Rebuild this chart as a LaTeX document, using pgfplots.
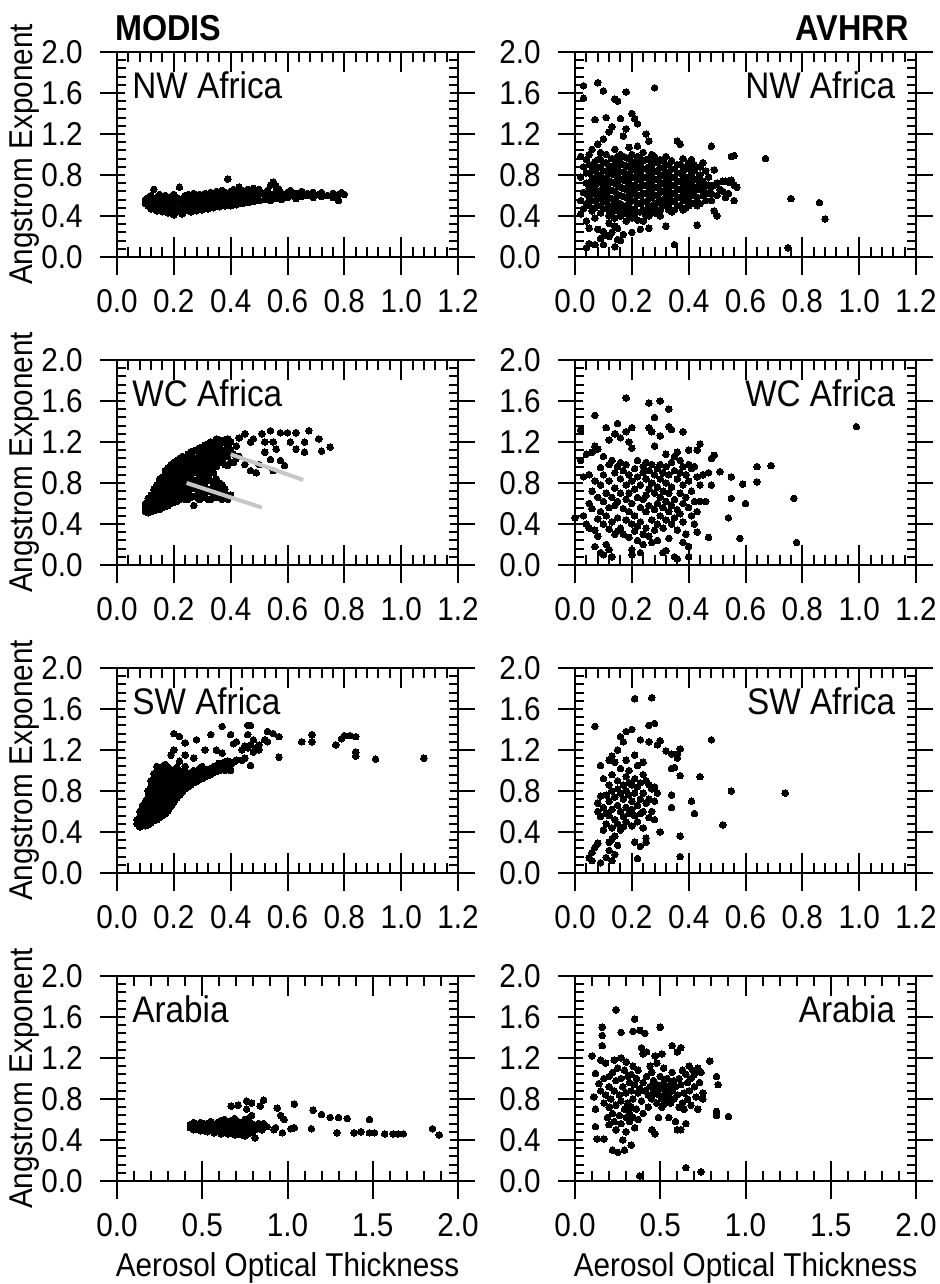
\documentclass[border=0pt]{standalone}
\usepackage{fontspec}
\setmainfont{Liberation Sans}[FakeStretch=0.9]
\usepackage{pgfplots}
\pgfplotsset{compat=1.18}
\newcommand\tickfont{\fontsize{16.5}{18}\selectfont}
\newcommand\panelfont{\fontsize{18.5}{20}\selectfont}
\newcommand\titlefont{\fontsize{18}{20}\selectfont\bfseries}
\pgfplotsset{
 dots/.style={only marks, mark=*, mark size=1.65pt, black, mark options={fill=black, draw=black, line width=0pt}},
 sat/.style={
  scale only axis, width=170.5pt, height=102.5pt,
  ymin=0, ymax=2, ytick={0,0.4,0.8,1.2,1.6,2.0},
  minor y tick num=4, minor x tick num=4,
  tick align=inside,
  major tick length=7pt, minor tick length=4.5pt,
  axis line style={line width=1pt},
  every tick/.style={black, line width=1pt},
  xtick style={/pgfplots/major tick length=10pt, /pgfplots/minor tick length=5pt},
  ytick style={/pgfplots/major tick length=4pt, /pgfplots/minor tick length=4.5pt},
  tick label style={font=\tickfont, inner sep=1pt},
  /pgf/number format/assume math mode=true,
  /pgf/number format/fixed, /pgf/number format/fixed zerofill, /pgf/number format/precision=1,
  xticklabel shift=15pt, yticklabel shift=16pt,
  extra y ticks={0,0.4,0.8,1.2,1.6,2.0},
  extra y tick labels={,,,,,},
  extra y tick style={tick align=outside, ytick style={/pgfplots/major tick length=8.5pt}},
  clip=false, clip marker paths=true,
  every axis y label/.style={at={(axis description cs:-0.27,0.5)}, rotate=90, anchor=center, font=\tickfont},
  every axis x label/.style={at={(axis description cs:0.5,-0.424)}, anchor=center, font=\tickfont},
 },
 xa/.style={xmin=0, xmax=1.2, xtick={0,0.2,0.4,0.6,0.8,1.0,1.2},
  extra x ticks={0,0.2,0.4,0.6,0.8,1.0,1.2}, extra x tick labels={,,,,,,},
  extra x tick style={tick align=outside, xtick pos=left, xtick style={/pgfplots/major tick length=9pt}}},
 xb/.style={xmin=0, xmax=2, xtick={0,0.5,1.0,1.5,2.0},
  extra x ticks={0,0.5,1.0,1.5,2.0}, extra x tick labels={,,,,},
  extra x tick style={tick align=outside, xtick pos=left, xtick style={/pgfplots/major tick length=9pt}}},
}
\begin{document}
\begin{tikzpicture}
\path[use as bounding box] (0,0) rectangle (470pt,642pt);
% ---------------- Row 1: NW Africa
\begin{axis}[sat, xa, at={(58.5pt,513.5pt)}, anchor=south west, ylabel={Angstrom Exponent}]
\addplot[dots] coordinates {
(0.10,0.52)(0.10,0.56)(0.11,0.50)(0.11,0.58)(0.11,0.54)(0.12,0.47)(0.12,0.55)(0.12,0.60)(0.13,0.49)(0.13,0.53)(0.13,0.66)(0.14,0.45)(0.14,0.52)(0.14,0.58)(0.15,0.48)(0.15,0.55)(0.15,0.61)(0.16,0.44)(0.16,0.51)(0.16,0.57)(0.17,0.47)(0.17,0.54)(0.17,0.60)(0.18,0.43)(0.18,0.50)(0.18,0.56)(0.19,0.46)(0.19,0.53)(0.19,0.59)(0.20,0.41)(0.20,0.49)(0.20,0.55)(0.20,0.61)(0.21,0.44)(0.21,0.52)(0.21,0.58)(0.22,0.46)(0.22,0.54)(0.22,0.68)(0.23,0.42)(0.23,0.50)(0.23,0.57)(0.24,0.45)(0.24,0.53)(0.24,0.60)(0.25,0.47)(0.25,0.55)(0.25,0.61)(0.26,0.44)(0.26,0.51)(0.26,0.58)(0.27,0.48)(0.27,0.54)(0.27,0.62)(0.28,0.45)(0.28,0.52)(0.28,0.59)(0.29,0.49)(0.29,0.56)(0.29,0.61)(0.30,0.46)(0.30,0.53)(0.30,0.60)(0.31,0.50)(0.31,0.57)(0.31,0.62)(0.32,0.47)(0.32,0.54)(0.32,0.61)(0.33,0.49)(0.33,0.56)(0.33,0.63)(0.34,0.48)(0.34,0.55)(0.34,0.60)(0.35,0.50)(0.35,0.57)(0.35,0.64)(0.36,0.49)(0.36,0.55)(0.36,0.62)(0.37,0.51)(0.37,0.58)(0.37,0.65)(0.38,0.50)(0.38,0.56)(0.38,0.63)(0.39,0.52)(0.39,0.59)(0.39,0.76)(0.40,0.50)(0.40,0.57)(0.40,0.64)(0.41,0.53)(0.41,0.60)(0.41,0.66)(0.42,0.51)(0.42,0.58)(0.42,0.63)(0.43,0.54)(0.43,0.61)(0.43,0.68)(0.44,0.52)(0.44,0.59)(0.44,0.65)(0.45,0.55)(0.45,0.62)(0.46,0.53)(0.46,0.60)(0.46,0.66)(0.47,0.56)(0.47,0.62)(0.48,0.54)(0.48,0.60)(0.48,0.67)(0.49,0.57)(0.49,0.63)(0.50,0.55)(0.50,0.61)(0.50,0.66)(0.52,0.56)(0.52,0.62)(0.53,0.58)(0.53,0.65)(0.54,0.55)(0.54,0.61)(0.54,0.70)(0.55,0.59)(0.55,0.73)(0.56,0.57)(0.56,0.64)(0.56,0.69)(0.57,0.60)(0.57,0.66)(0.58,0.56)(0.58,0.62)(0.60,0.58)(0.60,0.63)(0.61,0.60)(0.61,0.65)(0.63,0.57)(0.63,0.62)(0.65,0.59)(0.65,0.64)(0.67,0.60)(0.67,0.62)(0.69,0.58)(0.69,0.63)(0.71,0.61)(0.72,0.59)(0.72,0.63)(0.74,0.60)(0.76,0.62)(0.76,0.58)(0.78,0.55)(0.78,0.61)(0.79,0.63)(0.80,0.61)
};
\node[anchor=west, font=\panelfont, inner sep=0pt] at (rel axis cs:0.044,0.84) {NW Africa};
\node[anchor=west, font=\titlefont, inner sep=0pt] at (rel axis cs:-0.006,1.117) {MODIS};
\end{axis}
\begin{axis}[sat, xa, at={(287.5pt,513.5pt)}, anchor=south west]
\addplot[dots] coordinates {
(0.02,0.55)(0.02,0.78)(0.02,0.98)(0.02,0.42)(0.03,0.63)(0.03,0.88)(0.03,1.67)(0.03,1.55)(0.03,0.47)(0.04,0.52)(0.04,0.72)(0.04,0.95)(0.04,0.35)(0.04,0.09)(0.05,0.58)(0.05,0.82)(0.05,1.00)(0.05,0.67)(0.05,0.13)(0.05,0.28)(0.06,0.45)(0.06,0.62)(0.06,0.76)(0.06,0.90)(0.06,1.05)(0.07,0.55)(0.07,0.70)(0.07,0.85)(0.07,1.34)(0.07,0.38)(0.07,0.12)(0.08,0.50)(0.08,0.64)(0.08,0.80)(0.08,0.95)(0.08,1.70)(0.08,0.27)(0.08,1.10)(0.09,0.58)(0.09,0.73)(0.09,0.88)(0.09,1.02)(0.09,0.43)(0.09,0.18)(0.10,0.47)(0.10,0.62)(0.10,0.77)(0.10,0.92)(0.10,1.15)(0.10,1.62)(0.10,0.12)(0.10,0.25)(0.11,0.54)(0.11,0.69)(0.11,0.84)(0.11,1.00)(0.11,1.36)(0.11,0.21)(0.12,0.40)(0.12,0.58)(0.12,0.74)(0.12,0.89)(0.12,1.22)(0.12,0.33)(0.12,0.20)(0.13,0.50)(0.13,0.65)(0.13,0.81)(0.13,0.96)(0.13,1.27)(0.13,0.24)(0.14,0.38)(0.14,0.56)(0.14,0.72)(0.14,0.87)(0.14,1.05)(0.14,1.54)(0.14,0.10)(0.14,0.30)(0.15,0.45)(0.15,0.61)(0.15,0.78)(0.15,0.93)(0.15,1.52)(0.15,0.28)(0.15,0.17)(0.16,0.52)(0.16,0.68)(0.16,0.83)(0.16,1.00)(0.16,1.35)(0.16,0.16)(0.16,0.40)(0.17,0.42)(0.17,0.59)(0.17,0.75)(0.17,0.90)(0.17,1.18)(0.17,0.22)(0.18,0.50)(0.18,0.66)(0.18,0.81)(0.18,0.97)(0.18,1.25)(0.18,1.61)(0.18,0.35)(0.19,0.44)(0.19,0.60)(0.19,0.72)(0.19,0.88)(0.19,1.07)(0.20,0.38)(0.20,0.55)(0.20,0.70)(0.20,0.85)(0.20,1.00)(0.20,1.40)(0.20,0.24)(0.21,0.47)(0.21,0.63)(0.21,0.78)(0.21,0.93)(0.21,1.35)(0.22,0.36)(0.22,0.52)(0.22,0.68)(0.22,0.84)(0.22,1.30)(0.22,1.08)(0.23,0.44)(0.23,0.60)(0.23,0.75)(0.23,0.90)(0.23,0.27)(0.24,0.35)(0.24,0.54)(0.24,0.70)(0.24,0.86)(0.24,1.02)(0.25,0.46)(0.25,0.62)(0.25,0.78)(0.25,0.95)(0.25,1.20)(0.26,0.40)(0.26,0.57)(0.26,0.72)(0.26,0.88)(0.26,1.13)(0.26,0.28)(0.27,0.50)(0.27,0.66)(0.27,0.82)(0.27,1.00)(0.28,0.43)(0.28,0.60)(0.28,0.76)(0.28,0.92)(0.28,1.65)(0.29,0.53)(0.29,0.68)(0.29,0.84)(0.30,0.46)(0.30,0.63)(0.30,0.79)(0.30,0.95)(0.31,0.56)(0.31,0.72)(0.31,0.87)(0.32,0.30)(0.32,0.50)(0.32,0.66)(0.32,0.82)(0.33,0.60)(0.33,0.76)(0.33,0.90)(0.34,0.44)(0.34,0.55)(0.34,0.70)(0.34,0.86)(0.35,0.62)(0.35,0.78)(0.35,0.12)(0.36,0.50)(0.36,0.66)(0.36,0.82)(0.36,1.13)(0.37,0.58)(0.37,0.74)(0.37,0.90)(0.37,1.10)(0.38,0.46)(0.38,0.64)(0.38,0.80)(0.39,0.55)(0.39,0.70)(0.39,0.86)(0.40,0.50)(0.40,0.65)(0.40,0.78)(0.40,0.92)(0.41,0.60)(0.41,0.74)(0.41,0.95)(0.42,0.52)(0.42,0.68)(0.42,0.84)(0.43,0.31)(0.43,0.58)(0.43,0.76)(0.44,0.52)(0.44,0.66)(0.44,0.88)(0.45,0.60)(0.45,0.92)(0.45,0.74)(0.46,0.55)(0.46,0.70)(0.47,0.78)(0.47,0.62)(0.48,0.55)(0.48,1.08)(0.48,0.68)(0.49,0.45)(0.49,0.85)(0.50,0.40)(0.50,0.72)(0.50,0.60)(0.52,0.74)(0.52,0.64)(0.53,0.58)(0.53,0.74)(0.54,0.62)(0.54,0.73)(0.55,0.98)(0.55,0.75)(0.56,0.55)(0.56,0.99)(0.56,0.70)(0.57,0.68)(0.67,0.96)(0.75,0.09)(0.76,0.57)(0.86,0.53)(0.88,0.37)
(0.05,0.72)(0.06,0.55)(0.07,0.62)(0.08,0.72)(0.09,0.65)(0.10,0.55)(0.10,0.84)(0.11,0.62)(0.11,0.76)(0.12,0.50)(0.12,0.66)(0.12,0.82)(0.13,0.57)(0.13,0.73)(0.13,0.88)(0.14,0.64)(0.14,0.80)(0.15,0.53)(0.15,0.70)(0.15,0.86)(0.16,0.60)(0.16,0.76)(0.16,0.92)(0.17,0.50)(0.17,0.67)(0.17,0.83)(0.18,0.58)(0.18,0.74)(0.18,0.89)(0.19,0.52)(0.19,0.66)(0.19,0.80)(0.19,0.96)(0.20,0.46)(0.20,0.62)(0.20,0.78)(0.20,0.92)(0.21,0.55)(0.21,0.70)(0.21,0.86)(0.22,0.44)(0.22,0.60)(0.22,0.76)(0.22,0.92)(0.23,0.52)(0.23,0.68)(0.23,0.82)(0.24,0.62)(0.24,0.78)(0.24,0.94)(0.25,0.54)(0.25,0.70)(0.25,0.86)(0.26,0.64)(0.26,0.80)(0.27,0.58)(0.27,0.74)(0.27,0.90)(0.28,0.52)(0.28,0.68)(0.28,0.84)(0.29,0.60)(0.29,0.76)(0.29,0.92)(0.30,0.55)(0.30,0.71)(0.30,0.87)(0.31,0.64)(0.31,0.80)(0.32,0.58)(0.32,0.74)(0.32,0.90)(0.33,0.52)(0.33,0.68)(0.33,0.83)(0.34,0.62)(0.34,0.78)(0.35,0.54)(0.35,0.70)(0.35,0.86)(0.36,0.58)(0.36,0.74)(0.37,0.66)(0.37,0.82)(0.38,0.56)(0.38,0.72)(0.38,0.88)(0.39,0.62)(0.39,0.78)(0.40,0.58)(0.40,0.72)(0.41,0.66)(0.41,0.82)(0.42,0.60)(0.42,0.76)(0.43,0.66)(0.44,0.72)
(0.04,0.62)(0.04,0.82)(0.05,0.50)(0.05,0.90)(0.06,0.68)(0.06,0.84)(0.07,0.48)(0.07,0.77)(0.07,0.93)(0.08,0.57)(0.08,0.87)(0.09,0.50)(0.09,0.80)(0.09,0.95)(0.10,0.70)(0.11,0.47)(0.11,0.92)(0.12,0.45)(0.13,0.44)(0.14,0.48)(0.14,0.94)(0.15,0.98)(0.16,0.46)(0.17,0.98)(0.18,0.44)(0.19,0.38)(0.21,0.40)(0.22,0.98)(0.23,0.96)(0.24,0.46)(0.25,0.40)(0.26,0.50)(0.26,0.96)(0.27,0.44)(0.28,0.98)(0.29,0.46)(0.30,0.40)(0.31,0.50)(0.31,0.94)(0.32,0.98)(0.33,0.46)(0.34,0.94)(0.35,0.46)(0.36,0.90)(0.37,0.50)(0.38,0.96)(0.39,0.48)(0.40,0.86)(0.41,0.52)(0.42,0.90)(0.43,0.50)(0.44,0.80)(0.45,0.66)(0.46,0.62)(0.46,0.84)(0.47,0.70)(0.48,0.62)(0.49,0.70)(0.51,0.66)
};
\node[anchor=east, font=\panelfont, inner sep=0pt] at (rel axis cs:0.94,0.84) {NW Africa};
\node[anchor=east, font=\titlefont, inner sep=0pt] at (rel axis cs:0.98,1.117) {AVHRR};
\end{axis}
% ---------------- Row 2: WC Africa
\begin{axis}[sat, xa, at={(58.5pt,359.5pt)}, anchor=south west, ylabel={Angstrom Exponent}]
\addplot[dots] coordinates {
(0.10,0.52)(0.10,0.56)(0.10,0.60)(0.11,0.51)(0.11,0.55)(0.11,0.60)(0.11,0.65)(0.12,0.52)(0.12,0.57)(0.12,0.62)(0.12,0.68)(0.13,0.53)(0.13,0.58)(0.13,0.64)(0.13,0.70)(0.13,0.74)(0.14,0.54)(0.14,0.60)(0.14,0.66)(0.14,0.72)(0.14,0.78)(0.15,0.54)(0.15,0.60)(0.15,0.66)(0.15,0.72)(0.15,0.78)(0.15,0.84)(0.16,0.56)(0.16,0.62)(0.16,0.68)(0.16,0.74)(0.16,0.80)(0.16,0.86)(0.17,0.57)(0.17,0.63)(0.17,0.70)(0.17,0.76)(0.17,0.82)(0.17,0.88)(0.17,0.92)(0.18,0.58)(0.18,0.65)(0.18,0.72)(0.18,0.78)(0.18,0.84)(0.18,0.90)(0.18,0.95)(0.19,0.60)(0.19,0.66)(0.19,0.73)(0.19,0.80)(0.19,0.86)(0.19,0.92)(0.19,0.98)(0.20,0.61)(0.20,0.68)(0.20,0.75)(0.20,0.82)(0.20,0.88)(0.20,0.94)(0.20,1.00)(0.21,0.62)(0.21,0.69)(0.21,0.76)(0.21,0.83)(0.21,0.90)(0.21,0.96)(0.21,1.02)(0.22,0.64)(0.22,0.71)(0.22,0.78)(0.22,0.85)(0.22,0.92)(0.22,0.98)(0.22,1.04)(0.23,0.65)(0.23,0.72)(0.23,0.79)(0.23,0.86)(0.23,0.93)(0.23,1.00)(0.23,1.06)(0.24,0.64)(0.24,0.70)(0.24,0.77)(0.24,0.84)(0.24,0.91)(0.24,0.98)(0.24,1.05)(0.25,0.64)(0.25,0.72)(0.25,0.80)(0.25,0.87)(0.25,0.94)(0.25,1.01)(0.25,1.08)(0.26,0.66)(0.26,0.74)(0.26,0.82)(0.26,0.89)(0.26,0.96)(0.26,1.03)(0.26,1.10)(0.27,0.58)(0.27,0.67)(0.27,0.75)(0.27,0.83)(0.27,0.91)(0.27,0.98)(0.27,1.05)(0.27,1.11)(0.28,0.66)(0.28,0.74)(0.28,0.82)(0.28,0.90)(0.28,0.97)(0.28,1.04)(0.28,1.12)(0.29,0.64)(0.29,0.72)(0.29,0.80)(0.29,0.88)(0.29,0.95)(0.29,1.02)(0.29,1.09)(0.29,1.14)(0.30,0.66)(0.30,0.76)(0.30,0.84)(0.30,0.92)(0.30,0.99)(0.30,1.06)(0.30,1.15)(0.31,0.70)(0.31,0.80)(0.31,0.88)(0.31,0.96)(0.31,1.04)(0.31,1.12)(0.31,1.17)(0.32,0.64)(0.32,0.74)(0.32,0.86)(0.32,0.94)(0.32,1.01)(0.32,1.09)(0.32,1.18)(0.33,0.64)(0.33,0.72)(0.33,0.82)(0.33,0.92)(0.33,1.00)(0.33,1.07)(0.33,1.14)(0.33,1.20)(0.34,0.68)(0.34,0.78)(0.34,0.90)(0.34,0.98)(0.34,1.05)(0.34,1.12)(0.34,1.20)(0.35,0.66)(0.35,0.76)(0.35,0.84)(0.35,0.96)(0.35,1.04)(0.35,1.10)(0.35,1.17)(0.35,1.23)(0.36,0.72)(0.36,0.80)(0.36,1.00)(0.36,1.08)(0.36,1.15)(0.36,1.22)(0.37,0.64)(0.37,0.70)(0.37,0.78)(0.37,1.03)(0.37,1.12)(0.37,1.19)(0.38,0.68)(0.38,0.74)(0.38,0.98)(0.38,1.10)(0.38,1.22)(0.39,0.64)(0.39,0.97)(0.39,1.06)(0.39,1.16)(0.39,1.23)(0.40,0.68)(0.40,1.00)(0.40,1.12)(0.40,1.20)(0.41,1.00)(0.41,1.08)(0.42,1.16)(0.42,1.04)(0.43,1.06)(0.43,1.24)(0.45,0.98)(0.45,1.28)(0.47,0.92)(0.47,1.20)(0.48,1.23)(0.49,0.90)(0.50,0.98)(0.51,1.28)(0.52,1.10)(0.52,1.20)(0.54,1.31)(0.54,1.03)(0.55,0.92)(0.55,1.20)(0.56,1.13)(0.575,1.02)(0.575,1.29)(0.59,0.97)(0.60,1.29)(0.61,1.20)(0.63,1.29)(0.63,1.13)(0.66,1.20)(0.66,1.10)(0.675,1.31)(0.71,1.23)(0.72,1.11)(0.75,1.15)
};
\addplot[gray!45, line width=2pt] coordinates {(0.245,0.80)(0.51,0.56)};
\addplot[gray!45, line width=2pt] coordinates {(0.40,1.08)(0.655,0.83)};
\node[anchor=west, font=\panelfont, inner sep=0pt] at (rel axis cs:0.044,0.84) {WC Africa};
\end{axis}
\begin{axis}[sat, xa, at={(287.5pt,359.5pt)}, anchor=south west]
\addplot[dots] coordinates {
(0.00,0.46)(0.02,1.02)(0.02,1.32)(0.03,0.86)(0.03,0.48)(0.04,1.08)(0.04,0.40)(0.05,0.88)(0.05,0.60)(0.05,0.36)(0.06,1.10)(0.06,0.72)(0.06,0.55)(0.07,1.46)(0.07,1.16)(0.07,0.82)(0.07,0.34)(0.07,0.18)(0.08,1.13)(0.08,0.66)(0.08,0.45)(0.08,0.28)(0.09,0.95)(0.09,0.78)(0.09,0.52)(0.09,0.12)(0.10,1.06)(0.10,0.88)(0.10,0.62)(0.10,0.40)(0.10,0.10)(0.11,1.34)(0.11,0.70)(0.11,0.48)(0.11,0.20)(0.12,1.22)(0.12,0.98)(0.12,0.82)(0.12,0.56)(0.12,0.35)(0.12,0.15)(0.13,1.02)(0.13,0.66)(0.13,0.42)(0.13,0.08)(0.14,1.28)(0.14,0.90)(0.14,0.75)(0.14,0.58)(0.14,0.30)(0.15,1.38)(0.15,0.96)(0.15,0.62)(0.15,0.46)(0.15,0.33)(0.16,1.24)(0.16,1.00)(0.16,0.84)(0.16,0.70)(0.16,0.36)(0.17,0.92)(0.17,0.55)(0.17,0.30)(0.18,1.63)(0.18,1.30)(0.18,0.98)(0.18,0.78)(0.18,0.64)(0.18,0.44)(0.19,1.20)(0.19,0.88)(0.19,0.70)(0.19,0.52)(0.19,0.27)(0.20,1.34)(0.20,1.14)(0.20,0.82)(0.20,0.60)(0.20,0.40)(0.20,0.15)(0.20,0.10)(0.21,0.94)(0.21,0.74)(0.21,0.48)(0.21,0.33)(0.22,1.02)(0.22,0.86)(0.22,0.66)(0.22,0.38)(0.22,0.24)(0.23,0.78)(0.23,0.56)(0.23,0.42)(0.23,0.12)(0.24,0.96)(0.24,0.90)(0.24,0.64)(0.24,0.30)(0.24,0.20)(0.25,1.00)(0.25,0.84)(0.25,0.68)(0.25,0.52)(0.25,0.36)(0.26,1.58)(0.26,1.34)(0.26,0.92)(0.26,0.74)(0.26,0.58)(0.26,0.28)(0.27,1.30)(0.27,0.98)(0.27,0.80)(0.27,0.44)(0.27,0.22)(0.28,1.44)(0.28,1.16)(0.28,0.88)(0.28,0.70)(0.28,0.54)(0.28,0.34)(0.29,0.94)(0.29,0.76)(0.29,0.60)(0.29,0.40)(0.29,0.24)(0.30,1.60)(0.30,1.26)(0.30,0.98)(0.30,0.84)(0.30,0.66)(0.30,0.48)(0.31,0.90)(0.31,0.72)(0.31,0.56)(0.31,0.36)(0.31,0.12)(0.32,1.08)(0.32,0.96)(0.32,0.80)(0.32,0.62)(0.32,0.44)(0.32,0.14)(0.33,1.52)(0.33,1.35)(0.33,0.88)(0.33,0.70)(0.33,0.52)(0.33,0.26)(0.34,1.32)(0.34,1.00)(0.34,0.76)(0.34,0.58)(0.34,0.40)(0.35,1.06)(0.35,0.92)(0.35,0.64)(0.35,0.46)(0.35,0.08)(0.36,1.10)(0.36,0.84)(0.36,0.54)(0.36,0.34)(0.36,0.06)(0.37,1.02)(0.37,0.90)(0.37,0.70)(0.37,0.50)(0.38,1.30)(0.38,0.96)(0.38,0.78)(0.38,0.60)(0.38,0.42)(0.38,0.22)(0.39,0.88)(0.39,0.66)(0.39,0.30)(0.40,1.12)(0.40,0.98)(0.40,0.82)(0.40,0.56)(0.40,0.18)(0.40,0.08)(0.41,0.94)(0.41,0.72)(0.41,0.48)(0.42,0.96)(0.42,0.62)(0.42,0.40)(0.43,1.12)(0.43,0.86)(0.43,0.52)(0.43,0.32)(0.44,1.18)(0.44,0.78)(0.44,0.62)(0.45,0.88)(0.46,0.62)(0.47,0.27)(0.47,0.90)(0.48,1.04)(0.48,0.78)(0.49,1.07)(0.51,0.91)(0.54,0.46)(0.55,0.86)(0.55,0.65)(0.58,0.26)(0.59,0.79)(0.60,0.60)(0.64,0.96)(0.64,0.81)(0.69,0.97)(0.77,0.65)(0.78,0.22)(0.99,1.35)
};
\node[anchor=east, font=\panelfont, inner sep=0pt] at (rel axis cs:0.94,0.84) {WC Africa};
\end{axis}
% ---------------- Row 3: SW Africa
\begin{axis}[sat, xa, at={(58.5pt,205.5pt)}, anchor=south west, ylabel={Angstrom Exponent}]
\addplot[dots] coordinates {
(0.07,0.48)(0.07,0.52)(0.08,0.45)(0.08,0.50)(0.08,0.55)(0.08,0.60)(0.09,0.46)(0.09,0.51)(0.09,0.56)(0.09,0.61)(0.09,0.66)(0.10,0.46)(0.10,0.50)(0.10,0.55)(0.10,0.60)(0.10,0.65)(0.10,0.70)(0.11,0.47)(0.11,0.52)(0.11,0.57)(0.11,0.62)(0.11,0.68)(0.11,0.74)(0.11,0.80)(0.12,0.49)(0.12,0.54)(0.12,0.60)(0.12,0.66)(0.12,0.72)(0.12,0.78)(0.12,0.84)(0.12,0.90)(0.13,0.51)(0.13,0.56)(0.13,0.62)(0.13,0.68)(0.13,0.74)(0.13,0.80)(0.13,0.86)(0.13,0.92)(0.13,0.97)(0.14,0.52)(0.14,0.58)(0.14,0.64)(0.14,0.70)(0.14,0.76)(0.14,0.82)(0.14,0.88)(0.14,0.94)(0.14,1.00)(0.14,1.04)(0.15,0.54)(0.15,0.60)(0.15,0.66)(0.15,0.72)(0.15,0.78)(0.15,0.84)(0.15,0.90)(0.15,0.96)(0.15,1.02)(0.16,0.56)(0.16,0.62)(0.16,0.68)(0.16,0.74)(0.16,0.80)(0.16,0.86)(0.16,0.92)(0.16,0.98)(0.16,1.04)(0.17,0.58)(0.17,0.64)(0.17,0.70)(0.17,0.76)(0.17,0.82)(0.17,0.88)(0.17,0.94)(0.17,1.00)(0.17,1.06)(0.18,0.61)(0.18,0.67)(0.18,0.73)(0.18,0.79)(0.18,0.85)(0.18,0.91)(0.18,0.97)(0.18,1.03)(0.19,0.65)(0.19,0.71)(0.19,0.77)(0.19,0.83)(0.19,0.89)(0.19,0.95)(0.19,1.01)(0.19,1.15)(0.20,0.69)(0.20,0.75)(0.20,0.81)(0.20,0.87)(0.20,0.93)(0.20,0.99)(0.20,1.20)(0.20,1.36)(0.21,0.73)(0.21,0.79)(0.21,0.85)(0.21,0.91)(0.21,0.97)(0.21,1.03)(0.22,0.76)(0.22,0.82)(0.22,0.88)(0.22,0.94)(0.22,1.00)(0.22,1.09)(0.22,1.33)(0.23,0.79)(0.23,0.85)(0.23,0.91)(0.23,0.97)(0.24,0.82)(0.24,0.88)(0.24,0.94)(0.24,1.00)(0.24,1.04)(0.24,1.15)(0.24,1.27)(0.25,0.84)(0.25,0.90)(0.25,0.96)(0.26,0.86)(0.26,0.92)(0.26,0.98)(0.27,0.88)(0.27,0.94)(0.27,1.00)(0.27,1.12)(0.28,0.89)(0.28,0.95)(0.28,1.30)(0.29,0.91)(0.29,0.97)(0.29,1.02)(0.30,0.92)(0.30,0.98)(0.30,1.04)(0.31,0.94)(0.31,1.00)(0.31,1.20)(0.32,0.95)(0.32,1.01)(0.33,0.96)(0.33,1.02)(0.33,1.35)(0.34,0.98)(0.34,1.04)(0.35,0.99)(0.35,1.05)(0.35,1.20)(0.36,1.00)(0.36,1.07)(0.37,1.02)(0.37,1.43)(0.37,1.17)(0.38,1.00)(0.38,1.08)(0.39,1.04)(0.39,1.09)(0.40,1.00)(0.40,1.06)(0.40,1.35)(0.41,1.08)(0.41,1.26)(0.42,1.10)(0.42,1.28)(0.44,1.10)(0.44,1.20)(0.45,1.12)(0.45,1.24)(0.46,1.35)(0.46,1.44)(0.46,1.22)(0.47,1.05)(0.47,1.25)(0.47,1.44)(0.48,1.18)(0.48,1.30)(0.49,1.22)(0.50,1.25)(0.50,1.20)(0.52,1.30)(0.53,1.28)(0.53,1.38)(0.55,1.36)(0.57,1.33)(0.57,1.13)(0.65,1.28)(0.686,1.35)(0.686,1.28)(0.77,1.25)(0.79,1.31)(0.80,1.34)(0.82,1.34)(0.84,1.33)(0.84,1.18)(0.84,1.14)(0.91,1.11)(1.08,1.12)
};
\node[anchor=west, font=\panelfont, inner sep=0pt] at (rel axis cs:0.044,0.84) {SW Africa};
\end{axis}
\begin{axis}[sat, xa, at={(287.5pt,205.5pt)}, anchor=south west]
\addplot[dots] coordinates {
(0.05,0.15)(0.06,0.12)(0.06,0.20)(0.07,0.25)(0.07,1.43)(0.08,0.29)(0.08,0.60)(0.08,0.68)(0.09,1.05)(0.09,0.75)(0.09,0.55)(0.09,0.10)(0.10,0.92)(0.10,0.64)(0.10,0.42)(0.11,0.76)(0.11,0.58)(0.11,0.48)(0.11,0.15)(0.12,1.10)(0.12,0.86)(0.12,0.70)(0.12,0.56)(0.12,0.30)(0.12,0.22)(0.13,1.14)(0.13,0.96)(0.13,0.80)(0.13,0.62)(0.13,0.44)(0.13,0.33)(0.13,0.12)(0.14,1.08)(0.14,0.74)(0.14,0.52)(0.14,0.36)(0.14,0.18)(0.15,1.20)(0.15,0.90)(0.15,0.82)(0.15,0.66)(0.15,0.48)(0.15,0.27)(0.16,1.33)(0.16,1.02)(0.16,0.78)(0.16,0.60)(0.16,0.42)(0.17,1.28)(0.17,0.86)(0.17,0.72)(0.17,0.55)(0.17,0.45)(0.18,1.38)(0.18,1.10)(0.18,0.94)(0.18,0.80)(0.18,0.64)(0.18,0.50)(0.19,0.76)(0.19,0.58)(0.19,0.88)(0.19,1.00)(0.20,1.40)(0.20,0.86)(0.20,0.70)(0.20,0.62)(0.20,0.46)(0.21,1.70)(0.21,1.15)(0.21,0.92)(0.21,0.78)(0.21,0.56)(0.21,0.30)(0.22,0.84)(0.22,0.66)(0.22,0.50)(0.22,0.14)(0.22,1.05)(0.23,1.30)(0.23,0.88)(0.23,0.72)(0.23,0.58)(0.23,0.26)(0.24,1.08)(0.24,0.96)(0.24,0.78)(0.24,0.60)(0.24,0.44)(0.25,0.90)(0.25,0.68)(0.25,0.30)(0.25,0.34)(0.26,1.44)(0.26,1.28)(0.26,0.86)(0.26,0.72)(0.26,0.54)(0.27,1.71)(0.27,0.82)(0.27,0.60)(0.28,1.46)(0.28,0.84)(0.28,0.70)(0.28,0.52)(0.29,1.25)(0.29,0.78)(0.30,1.29)(0.30,0.40)(0.32,1.19)(0.34,1.16)(0.34,1.02)(0.34,0.76)(0.34,0.64)(0.35,1.03)(0.36,1.16)(0.36,1.12)(0.37,1.21)(0.37,0.95)(0.37,0.36)(0.37,0.16)(0.41,0.70)(0.42,0.58)(0.44,0.94)(0.48,1.30)(0.52,0.47)(0.55,0.80)(0.74,0.78)
};
\node[anchor=east, font=\panelfont, inner sep=0pt] at (rel axis cs:0.94,0.84) {SW Africa};
\end{axis}
% ---------------- Row 4: Arabia
\begin{axis}[sat, xb, at={(58.5pt,51.5pt)}, anchor=south west, ylabel={Angstrom Exponent}, xlabel={Aerosol Optical Thickness}]
\addplot[dots] coordinates {
(0.43,0.52)(0.43,0.55)(0.45,0.50)(0.45,0.54)(0.45,0.57)(0.47,0.51)(0.47,0.55)(0.49,0.49)(0.49,0.53)(0.49,0.57)(0.51,0.50)(0.51,0.54)(0.51,0.56)(0.53,0.48)(0.53,0.52)(0.53,0.56)(0.55,0.50)(0.55,0.54)(0.55,0.58)(0.57,0.47)(0.57,0.52)(0.57,0.55)(0.59,0.49)(0.59,0.53)(0.59,0.57)(0.61,0.46)(0.61,0.51)(0.61,0.55)(0.61,0.59)(0.63,0.48)(0.63,0.52)(0.63,0.56)(0.63,0.60)(0.65,0.46)(0.65,0.50)(0.65,0.54)(0.65,0.58)(0.67,0.47)(0.67,0.51)(0.67,0.55)(0.67,0.59)(0.69,0.45)(0.69,0.49)(0.69,0.53)(0.69,0.57)(0.69,0.61)(0.71,0.46)(0.71,0.50)(0.71,0.54)(0.71,0.58)(0.73,0.45)(0.73,0.49)(0.73,0.53)(0.73,0.57)(0.75,0.44)(0.75,0.48)(0.75,0.52)(0.75,0.56)(0.75,0.60)(0.77,0.46)(0.77,0.50)(0.77,0.54)(0.77,0.58)(0.79,0.48)(0.79,0.52)(0.79,0.56)(0.81,0.50)(0.81,0.54)(0.83,0.52)(0.83,0.56)(0.85,0.50)
(0.67,0.73)(0.71,0.74)(0.76,0.78)(0.79,0.76)(0.86,0.79)(0.84,0.73)(0.79,0.64)(0.77,0.61)(0.76,0.70)(0.94,0.71)(0.96,0.64)(0.98,0.60)(1.04,0.75)(1.15,0.69)(1.20,0.65)(1.25,0.62)(1.30,0.62)(1.35,0.61)(1.48,0.60)(0.97,0.47)(1.02,0.51)(1.04,0.52)(1.14,0.51)(1.29,0.47)(1.39,0.47)(1.43,0.48)(1.48,0.47)(1.51,0.47)(1.57,0.46)(1.62,0.46)(1.65,0.46)(1.68,0.46)(1.85,0.51)(1.89,0.45)(0.81,0.42)(0.88,0.53)(0.92,0.50)(0.93,0.52)(0.86,0.56)
};
\node[anchor=west, font=\panelfont, inner sep=0pt] at (rel axis cs:0.044,0.84) {Arabia};
\end{axis}
\begin{axis}[sat, xb, at={(287.5pt,51.5pt)}, anchor=south west, xlabel={Aerosol Optical Thickness}]
\addplot[dots] coordinates {
(0.10,1.22)(0.11,0.82)(0.12,1.05)(0.12,0.53)(0.12,0.70)(0.13,0.41)(0.14,0.95)(0.15,1.18)(0.15,0.88)(0.16,1.50)(0.16,1.42)(0.16,1.32)(0.17,1.00)(0.17,0.76)(0.17,0.41)(0.18,1.15)(0.18,0.84)(0.19,0.62)(0.20,1.02)(0.20,0.92)(0.20,0.72)(0.20,0.55)(0.21,0.80)(0.22,1.06)(0.22,0.66)(0.22,0.30)(0.23,1.18)(0.23,0.88)(0.23,0.58)(0.24,1.67)(0.24,0.98)(0.24,0.74)(0.24,0.50)(0.25,1.10)(0.25,0.28)(0.26,0.84)(0.26,0.64)(0.27,1.45)(0.27,1.20)(0.27,1.00)(0.27,0.78)(0.27,0.56)(0.28,0.92)(0.28,0.40)(0.29,1.08)(0.29,0.70)(0.29,0.30)(0.30,1.16)(0.30,0.86)(0.30,0.62)(0.30,0.48)(0.31,1.02)(0.31,0.76)(0.32,0.96)(0.32,0.66)(0.32,0.58)(0.33,1.04)(0.33,0.88)(0.33,0.72)(0.33,0.35)(0.34,1.46)(0.34,1.12)(0.34,0.80)(0.34,0.62)(0.35,1.58)(0.35,0.94)(0.35,0.52)(0.36,1.00)(0.36,0.70)(0.37,1.08)(0.37,0.86)(0.37,0.60)(0.38,1.47)(0.38,0.90)(0.38,0.05)(0.39,1.30)(0.39,0.78)(0.40,1.24)(0.40,0.96)(0.40,0.66)(0.41,1.44)(0.41,0.88)(0.42,1.26)(0.42,1.02)(0.43,0.84)(0.43,0.72)(0.44,1.12)(0.44,0.92)(0.45,1.06)(0.45,0.80)(0.45,0.50)(0.46,0.98)(0.46,0.86)(0.47,1.22)(0.47,0.88)(0.47,0.46)(0.48,1.15)(0.48,0.94)(0.48,0.76)(0.49,0.84)(0.49,0.62)(0.50,1.50)(0.50,1.02)(0.50,0.90)(0.51,1.24)(0.51,0.80)(0.51,0.72)(0.52,0.96)(0.52,1.10)(0.53,0.86)(0.53,0.76)(0.54,1.00)(0.54,0.92)(0.55,0.82)(0.55,0.62)(0.56,0.94)(0.56,0.76)(0.57,1.06)(0.57,0.88)(0.57,1.32)(0.58,0.98)(0.58,0.80)(0.59,0.92)(0.59,0.58)(0.60,1.26)(0.60,0.84)(0.60,0.50)(0.61,1.00)(0.61,0.72)(0.62,1.30)(0.62,0.94)(0.62,0.50)(0.63,1.08)(0.63,0.76)(0.64,0.86)(0.64,0.70)(0.65,1.04)(0.65,0.13)(0.65,0.56)(0.66,0.96)(0.66,0.80)(0.67,1.12)(0.67,0.88)(0.68,1.00)(0.68,0.74)(0.69,1.08)(0.70,0.92)(0.70,1.04)(0.71,0.82)(0.72,1.10)(0.72,0.70)(0.73,0.96)(0.74,0.09)(0.74,1.06)(0.75,0.86)(0.75,0.80)(0.79,1.17)(0.83,1.02)(0.84,0.94)(0.83,0.68)(0.83,0.64)(0.90,0.63)
};
\node[anchor=east, font=\panelfont, inner sep=0pt] at (rel axis cs:0.94,0.84) {Arabia};
\end{axis}
\end{tikzpicture}
\end{document}
